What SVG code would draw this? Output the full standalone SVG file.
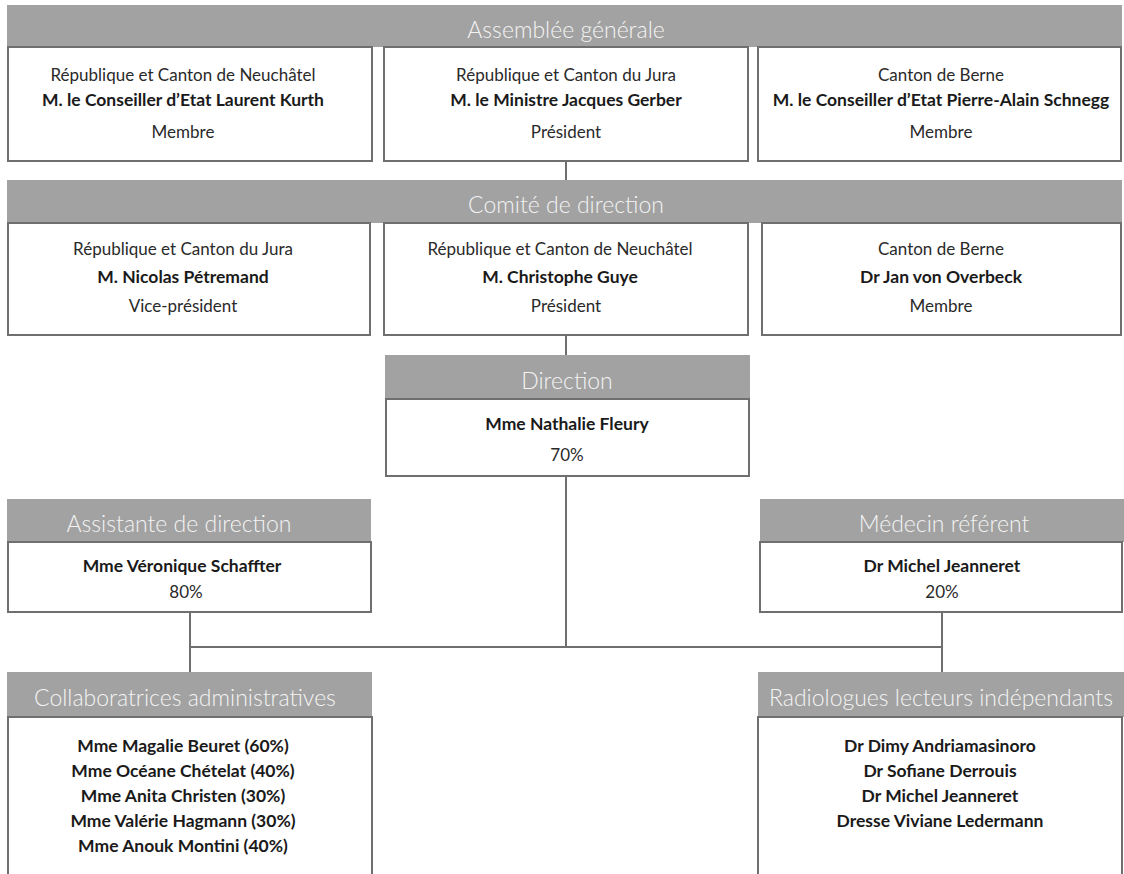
<svg xmlns="http://www.w3.org/2000/svg" width="1124" height="874" viewBox="0 0 1124 874">
<style>
.hdr{fill:#a2a2a2}
.box{fill:#fff;stroke:#6f6f6f;stroke-width:2}
.ht{font-family:Lato,"Liberation Sans",sans-serif;font-weight:300;font-size:23px;fill:#f4f4f4;text-anchor:middle}
.t{font-family:Lato,"Liberation Sans",sans-serif;font-weight:400;font-size:17px;fill:#2a2a2a;text-anchor:middle}
.b{font-family:Lato,"Liberation Sans",sans-serif;font-weight:700;font-size:17.5px;fill:#1a1a1a;text-anchor:middle}
.c{fill:none;stroke:#6f6f6f;stroke-width:2}
</style>
<rect width="1124" height="874" fill="#fff"/>
<g id="connectors">
<line class="c" x1="566" y1="161" x2="566" y2="180"/>
<line class="c" x1="566" y1="335" x2="566" y2="355"/>
<line class="c" x1="566" y1="476" x2="566" y2="647"/>
<line class="c" x1="190" y1="612" x2="190" y2="672"/>
<line class="c" x1="942" y1="612" x2="942" y2="672"/>
<line class="c" x1="190" y1="647" x2="942" y2="647"/>
</g>
<g id="assemblee-header">
<rect class="hdr" x="7" y="5" width="1115" height="42"/>
<text class="ht" x="566" y="38">Assemblée générale</text>
</g>
<g id="ag-neuchatel">
<rect class="box" x="8" y="47" width="364" height="114"/>
<text class="t" x="183" y="81">République et Canton de Neuchâtel</text>
<text class="b" x="183" y="106">M. le Conseiller d’Etat Laurent Kurth</text>
<text class="t" x="183" y="138">Membre</text>
</g>
<g id="ag-jura">
<rect class="box" x="384" y="47" width="364" height="114"/>
<text class="t" x="566" y="81">République et Canton du Jura</text>
<text class="b" x="566" y="106">M. le Ministre Jacques Gerber</text>
<text class="t" x="566" y="138">Président</text>
</g>
<g id="ag-berne">
<rect class="box" x="758" y="47" width="363" height="114"/>
<text class="t" x="941" y="81">Canton de Berne</text>
<text class="b" x="941" y="106">M. le Conseiller d’Etat Pierre-Alain Schnegg</text>
<text class="t" x="941" y="138">Membre</text>
</g>
<g id="comite-header">
<rect class="hdr" x="7" y="180" width="1115" height="43"/>
<text class="ht" x="566" y="213">Comité de direction</text>
</g>
<g id="cd-jura">
<rect class="box" x="8" y="223" width="362" height="112"/>
<text class="t" x="183" y="255">République et Canton du Jura</text>
<text class="b" x="183" y="283">M. Nicolas Pétremand</text>
<text class="t" x="183" y="312">Vice-président</text>
</g>
<g id="cd-neuchatel">
<rect class="box" x="384" y="223" width="364" height="112"/>
<text class="t" x="560" y="255">République et Canton de Neuchâtel</text>
<text class="b" x="560" y="283">M. Christophe Guye</text>
<text class="t" x="566" y="312">Président</text>
</g>
<g id="cd-berne">
<rect class="box" x="762" y="223" width="359" height="112"/>
<text class="t" x="941" y="255">Canton de Berne</text>
<text class="b" x="941" y="283">Dr Jan von Overbeck</text>
<text class="t" x="941" y="312">Membre</text>
</g>
<g id="direction">
<rect class="hdr" x="385" y="355" width="365" height="44"/>
<text class="ht" x="567" y="389">Direction</text>
<rect class="box" x="386" y="399" width="363" height="77"/>
<text class="b" x="567" y="430">Mme Nathalie Fleury</text>
<text class="t" x="567" y="461">70%</text>
</g>
<g id="assistante">
<rect class="hdr" x="7" y="499" width="364" height="43"/>
<text class="ht" x="179" y="532">Assistante de direction</text>
<rect class="box" x="8" y="542" width="363" height="70"/>
<text class="b" x="182" y="572">Mme Véronique Schaffter</text>
<text class="t" x="186" y="598">80%</text>
</g>
<g id="medecin">
<rect class="hdr" x="760" y="499" width="364" height="43"/>
<text class="ht" x="944" y="532">Médecin référent</text>
<rect class="box" x="760" y="542" width="362" height="70"/>
<text class="b" x="942" y="572">Dr Michel Jeanneret</text>
<text class="t" x="942" y="598">20%</text>
</g>
<g id="collaboratrices">
<rect class="hdr" x="7" y="672" width="365" height="45"/>
<text class="ht" x="185" y="706">Collaboratrices administratives</text>
<rect class="box" x="8" y="717" width="364" height="170"/>
<text class="b" x="183" y="752">Mme Magalie Beuret (60%)</text>
<text class="b" x="183" y="777">Mme Océane Chételat (40%)</text>
<text class="b" x="183" y="802">Mme Anita Christen (30%)</text>
<text class="b" x="183" y="827">Mme Valérie Hagmann (30%)</text>
<text class="b" x="183" y="852">Mme Anouk Montini (40%)</text>
</g>
<g id="radiologues">
<rect class="hdr" x="758" y="672" width="366" height="45"/>
<text class="ht" x="941" y="706">Radiologues lecteurs indépendants</text>
<rect class="box" x="758" y="717" width="364" height="170"/>
<text class="b" x="940" y="752">Dr Dimy Andriamasinoro</text>
<text class="b" x="940" y="777">Dr Sofiane Derrouis</text>
<text class="b" x="940" y="802">Dr Michel Jeanneret</text>
<text class="b" x="940" y="827">Dresse Viviane Ledermann</text>
</g>
</svg>
